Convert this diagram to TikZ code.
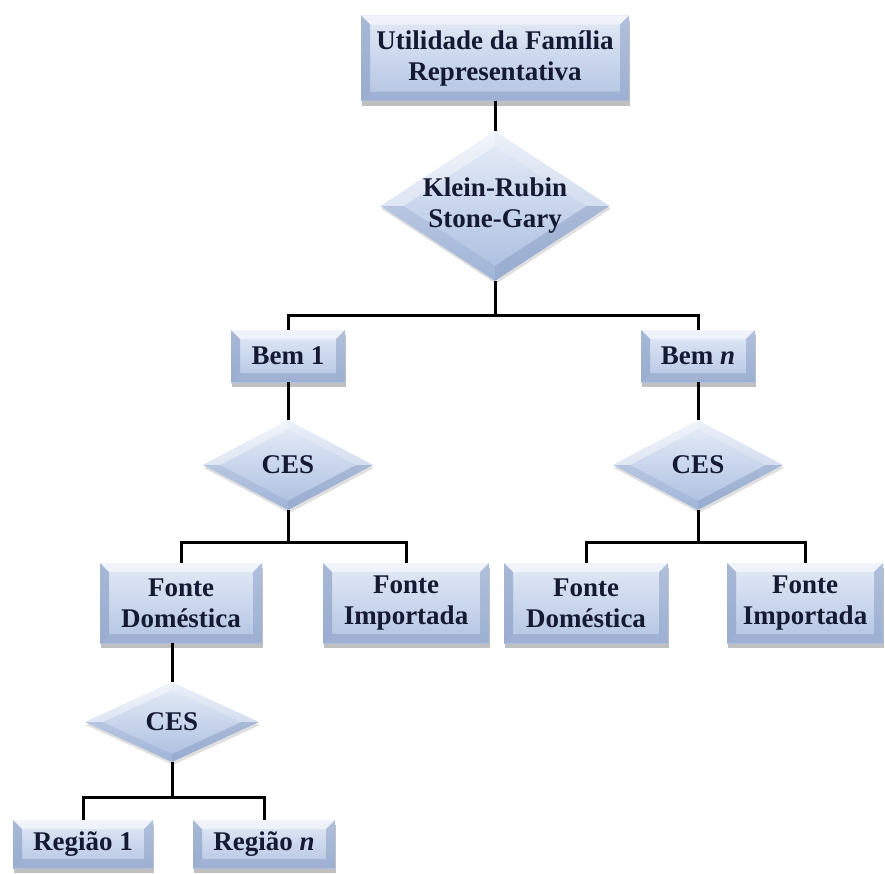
\documentclass[tikz,border=0pt]{standalone}
\usepackage{fontspec}
\setmainfont{Liberation Serif}
\usetikzlibrary{positioning,shapes.geometric,shadows,calc}

\definecolor{boxtop}{HTML}{E3EAF6}
\definecolor{boxbot}{HTML}{B3C4E2}
\definecolor{facetside}{HTML}{8FA3C9}
\definecolor{facetlow}{HTML}{8498C0}
\definecolor{diatop}{HTML}{E8EEF8}
\definecolor{diabot}{HTML}{A9BDDF}
\definecolor{inkblue}{HTML}{151A33}

\newlength{\bev}\setlength{\bev}{9pt}

\tikzset{
	txt/.style={font=\bfseries\fontsize{27}{31}\selectfont, text=inkblue, align=center, inner sep=0pt},
	bevelbox/.style={rectangle, txt, top color=boxtop, bottom color=boxbot,
		drop shadow={shadow xshift=1pt, shadow yshift=-5pt, opacity=0.45, fill=black!55},
		path picture={
			\fill[white, fill opacity=0.5] (path picture bounding box.north west) -- (path picture bounding box.north east) -- ([xshift=-\bev,yshift=-\bev]path picture bounding box.north east) -- ([xshift=\bev,yshift=-\bev]path picture bounding box.north west) -- cycle;
			\fill[facetlow, fill opacity=0.45] (path picture bounding box.south west) -- (path picture bounding box.south east) -- ([xshift=-\bev,yshift=\bev]path picture bounding box.south east) -- ([xshift=\bev,yshift=\bev]path picture bounding box.south west) -- cycle;
			\fill[facetside, fill opacity=0.7] (path picture bounding box.north west) -- ([xshift=\bev,yshift=-\bev]path picture bounding box.north west) -- ([xshift=\bev,yshift=\bev]path picture bounding box.south west) -- (path picture bounding box.south west) -- cycle;
			\fill[facetside, fill opacity=0.6] (path picture bounding box.north east) -- ([xshift=-\bev,yshift=-\bev]path picture bounding box.north east) -- ([xshift=-\bev,yshift=\bev]path picture bounding box.south east) -- (path picture bounding box.south east) -- cycle;
		}},
	diabox/.style={diamond, txt, top color=diatop, bottom color=diabot,
		drop shadow={shadow xshift=1pt, shadow yshift=-3pt, opacity=0.25, fill=black!50},
		path picture={
			\coordinate (pc) at (path picture bounding box.center);
			\coordinate (pn) at ($(pc)!0.8!(path picture bounding box.north)$);
			\coordinate (ps) at ($(pc)!0.8!(path picture bounding box.south)$);
			\coordinate (pw) at ($(pc)!0.8!(path picture bounding box.west)$);
			\coordinate (pe) at ($(pc)!0.8!(path picture bounding box.east)$);
			\fill[white, fill opacity=0.4] (path picture bounding box.west) -- (path picture bounding box.north) -- (pn) -- (pw) -- cycle;
			\fill[white, fill opacity=0.2] (path picture bounding box.north) -- (path picture bounding box.east) -- (pe) -- (pn) -- cycle;
			\fill[facetside, fill opacity=0.3] (path picture bounding box.west) -- (path picture bounding box.south) -- (ps) -- (pw) -- cycle;
			\fill[facetlow, fill opacity=0.45] (path picture bounding box.south) -- (path picture bounding box.east) -- (pe) -- (ps) -- cycle;
		}},
	link/.style={line width=3pt, black}
}

\begin{document}
\begin{tikzpicture}[x=1pt,y=-1pt]
	\useasboundingbox (0,0) rectangle (885,873);

	%Nodes
	\node[bevelbox, minimum width=268pt, minimum height=85pt] (util) at (495,58) {Utilidade da Família\\Representativa};
	\node[diabox, aspect=1.53, minimum width=226pt, minimum height=148pt] (kr) at (495,206) {Klein-Rubin\\Stone-Gary};

	\node[bevelbox, minimum width=114pt, minimum height=52pt] (bem1) at (288,356) {Bem 1};
	\node[bevelbox, minimum width=114pt, minimum height=52pt] (bemn) at (698,356) {Bem \textit{n}};

	\node[diabox, minimum width=170pt, minimum height=90pt] (ces1) at (288,465) {CES};
	\node[diabox, minimum width=170pt, minimum height=90pt] (cesn) at (698,465) {CES};

	\node[bevelbox, minimum width=162pt, minimum height=80pt] (dom1) at (181,603) {Fonte\\Doméstica};
	\node[bevelbox, minimum width=166pt, minimum height=80pt] (imp1) at (406,603) {Fonte\\Importada};
	\node[bevelbox, minimum width=164pt, minimum height=80pt] (domn) at (586,603) {Fonte\\Doméstica};
	\node[bevelbox, minimum width=156pt, minimum height=80pt] (impn) at (805,603) {Fonte\\Importada};

	\node[diabox, minimum width=174pt, minimum height=80pt] (cesr) at (172,722) {CES};

	\node[bevelbox, minimum width=140pt, minimum height=48pt] (reg1) at (83,844) {Região 1};
	\node[bevelbox, minimum width=142pt, minimum height=48pt] (regn) at (264,844) {Região \textit{n}};

	\coordinate      (krbar) 	at 	(495,315);
	\coordinate      (c1bar) 	at 	(288,542);
	\coordinate      (cnbar) 	at 	(698,542);
	\coordinate      (crbar) 	at 	(172,797);

	%Lines
	\draw[link] (util.south) -- (kr.north);
	\draw[link] (kr.south) -- (krbar);
	\draw[link] (bem1.north) |- (krbar) -| (bemn.north);

	\draw[link] (bem1.south) -- (ces1.north);
	\draw[link] (ces1.south) -- (c1bar);
	\draw[link] (dom1.north) |- (c1bar) -| (imp1.north);

	\draw[link] (bemn.south) -- (cesn.north);
	\draw[link] (cesn.south) -- (cnbar);
	\draw[link] (domn.north) |- (cnbar) -| (impn.north);

	\draw[link] (cesr.north |- dom1.south) -- (cesr.north);
	\draw[link] (cesr.south) -- (crbar);
	\draw[link] (reg1.north) |- (crbar) -| (regn.north);

\end{tikzpicture}
\end{document}
